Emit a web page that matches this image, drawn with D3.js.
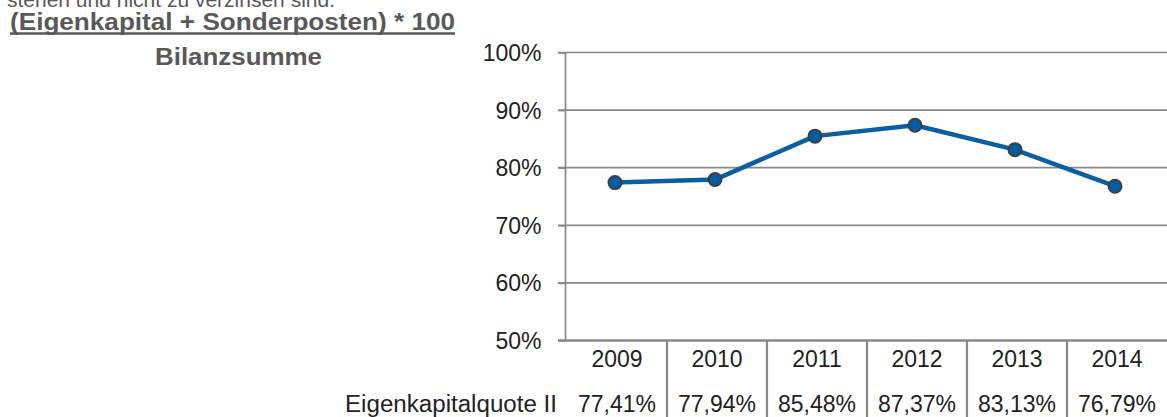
<!DOCTYPE html>
<html>
<head>
<meta charset="utf-8">
<script src="https://cdn.jsdelivr.net/npm/d3@7"></script>
<style>
  html, body { margin: 0; padding: 0; background: #fff; }
  svg { display: block; }
</style>
</head>
<body>
<svg id="chart" width="1167" height="417"></svg>
<script>
const years = ["2009", "2010", "2011", "2012", "2013", "2014"];
const values = [77.41, 77.94, 85.48, 87.37, 83.13, 76.79];
const valueLabels = ["77,41%", "77,94%", "85,48%", "87,37%", "83,13%", "76,79%"];
const yTicks = [50, 60, 70, 80, 90, 100];
const seriesName = "Eigenkapitalquote II";
const titleLines = ["stehen und nicht zu verzinsen sind.", "(Eigenkapital + Sonderposten) * 100", "Bilanzsumme"];

const svg = d3.select("#chart");
const chartFont = "'Liberation Sans', Arial, sans-serif";
const textCol = "#222222";
const gridCol = "#888888";

// Title block (formula)
svg.append("text").attr("x", 335).attr("y", 7).attr("text-anchor", "end")
  .attr("font-family", chartFont).attr("font-size", 21).attr("fill", "#595959")
  .text(titleLines[0]);
svg.append("text").attr("x", 10).attr("y", 30)
  .attr("font-family", chartFont).attr("font-size", 23).attr("font-weight", "bold")
  .attr("fill", "#595959").attr("textLength", 445).attr("lengthAdjust", "spacingAndGlyphs")
  .text(titleLines[1]);
svg.append("line").attr("x1", 10).attr("x2", 455).attr("y1", 33.5).attr("y2", 33.5)
  .attr("stroke", "#595959").attr("stroke-width", 2.4);
svg.append("text").attr("x", 155).attr("y", 65)
  .attr("font-family", chartFont).attr("font-size", 23).attr("font-weight", "bold")
  .attr("fill", "#595959").attr("textLength", 167).attr("lengthAdjust", "spacingAndGlyphs")
  .text(titleLines[2]);

// Scales
const x = d3.scaleBand().domain(years).range([567, 1167]);
const y = d3.scaleLinear().domain([50, 100]).range([340.5, 52.5]);

// Gridlines
svg.append("g").selectAll("line").data(yTicks.filter(t => t > 50)).join("line")
  .attr("x1", 558).attr("x2", 1167)
  .attr("y1", d => y(d)).attr("y2", d => y(d))
  .attr("stroke", gridCol).attr("stroke-width", 1.7);

// Y axis
const yAxis = d3.axisLeft(y).tickValues(yTicks).tickSize(7).tickPadding(17)
  .tickFormat(d => d + "%");
const gy = svg.append("g").attr("transform", "translate(565.5,0)").call(yAxis);
gy.select(".domain").attr("stroke", gridCol).attr("stroke-width", 1.7).attr("d", `M0,${y(100)}V${y(50)}`);
gy.selectAll(".tick line").attr("stroke", gridCol).attr("stroke-width", 1.7);
gy.selectAll(".tick text").attr("font-family", chartFont).attr("font-size", 23)
  .attr("fill", textCol).attr("dy", "0.35em");

// Bottom axis / table top line
svg.append("line").attr("x1", 558).attr("x2", 1167).attr("y1", y(50)).attr("y2", y(50))
  .attr("stroke", gridCol).attr("stroke-width", 2.6);

// Table vertical separators
svg.append("g").selectAll("line").data(years.slice(1)).join("line")
  .attr("x1", d => x(d)).attr("x2", d => x(d))
  .attr("y1", y(50)).attr("y2", 417)
  .attr("stroke", gridCol).attr("stroke-width", 2.2);

// Year labels
svg.append("g").selectAll("text").data(years).join("text")
  .attr("x", d => x(d) + x.bandwidth() / 2).attr("y", 359)
  .attr("dy", "0.35em").attr("text-anchor", "middle")
  .attr("font-family", chartFont).attr("font-size", 23).attr("fill", textCol)
  .text(d => d);

// Value labels
svg.append("g").selectAll("text").data(valueLabels).join("text")
  .attr("x", (d, i) => x(years[i]) + x.bandwidth() / 2).attr("y", 403.5)
  .attr("dy", "0.35em").attr("text-anchor", "middle")
  .attr("font-family", chartFont).attr("font-size", 23).attr("fill", textCol)
  .text(d => d);

// Series name
svg.append("text").attr("x", 557).attr("y", 403.5).attr("dy", "0.35em")
  .attr("text-anchor", "end")
  .attr("font-family", chartFont).attr("font-size", 23).attr("fill", textCol)
  .attr("textLength", 212).attr("lengthAdjust", "spacingAndGlyphs")
  .text(seriesName);

// Line
const pts = years.map((yr, i) => [x(yr) + x.bandwidth() / 2 - 2, y(values[i])]);
svg.append("path").datum(pts)
  .attr("d", d3.line())
  .attr("fill", "none").attr("stroke", "#0a5ea4").attr("stroke-width", 4.5)
  .attr("stroke-linejoin", "round");

// Markers
svg.append("g").selectAll("circle").data(pts).join("circle")
  .attr("cx", d => d[0]).attr("cy", d => d[1]).attr("r", 6.5)
  .attr("fill", "#005ea8").attr("stroke", "#3f3f3f").attr("stroke-width", 2);
</script>
</body>
</html>
